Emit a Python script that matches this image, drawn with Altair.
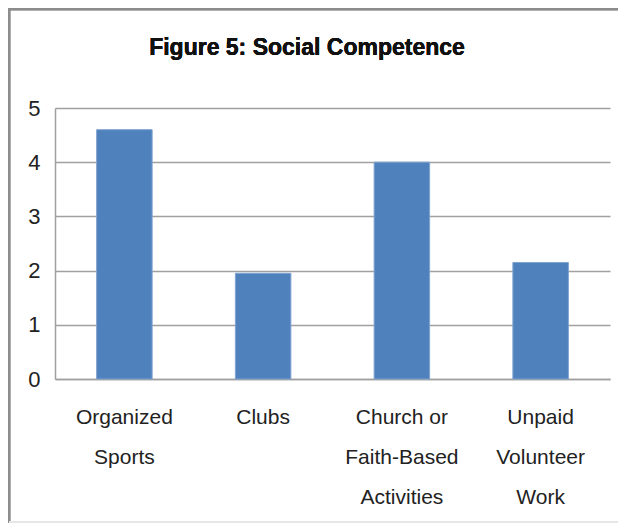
import altair as alt
import pandas as pd

title_text = "Figure 5: Social Competence"
categories = ["Organized\nSports", "Clubs", "Church or\nFaith-Based\nActivities", "Unpaid\nVolunteer\nWork"]
values = [4.6, 1.95, 4.0, 2.15]
y_ticks = [0, 1, 2, 3, 4, 5]

FONT = "Liberation Sans, Arial, sans-serif"

df = pd.DataFrame({"category": categories, "value": values})

bars = alt.Chart(df).mark_bar(color="#4F81BD", stroke="#7FA3D0", strokeWidth=1).encode(
    x=alt.X("category:N", sort=categories, title=None,
            scale=alt.Scale(paddingInner=0.6, paddingOuter=0.3),
            axis=alt.Axis(labelAngle=0, labelFontSize=21, labelColor="#222222",
                          labelFont=FONT, labelLineHeight=40, labelPadding=38,
                          labelExpr="split(datum.label, '\\n')", labelBaseline="middle",
                          ticks=False, domain=True, domainColor="#a0a0a0", domainWidth=1.5,
                          grid=False)),
    y=alt.Y("value:Q", title=None,
            scale=alt.Scale(domain=[0, 5], nice=False),
            axis=alt.Axis(values=y_ticks, labelFontSize=22, labelColor="#222222",
                          labelFont=FONT, labelPadding=15, ticks=False,
                          domain=True, domainColor="#a0a0a0", domainWidth=1.5,
                          grid=True, gridColor="#a0a0a0", gridWidth=1.5)),
)

left_border = alt.Chart(df).mark_rule(color="#8c8c8c", strokeWidth=2.5, clip=False).encode(
    x=alt.value(-46), y=alt.value(-100), y2=alt.value(415)
)
top_border = alt.Chart(df).mark_rule(color="#8c8c8c", strokeWidth=2.5, clip=False).encode(
    x=alt.value(-47), x2=alt.value(565), y=alt.value(-99)
)
bottom_border = alt.Chart(df).mark_rule(color="#e6e6e6", strokeWidth=1.5, clip=False).encode(
    x=alt.value(-46), x2=alt.value(565), y=alt.value(414)
)

title = alt.Chart(df).mark_text(text=title_text, font=FONT, fontSize=23, fontWeight="bold",
                                color="#111111", align="center", baseline="middle").encode(
    x=alt.value(252), y=alt.value(-60)
)

chart = alt.layer(left_border, top_border, bottom_border, bars, title).properties(
    width=555, height=271,
    padding={"left": 47, "top": 100, "right": 8, "bottom": 144},
    autosize=alt.AutoSizeParams(type="none"),
).configure_view(stroke=None)

chart.save("out.html", embed_options={"renderer": "svg", "actions": False})
